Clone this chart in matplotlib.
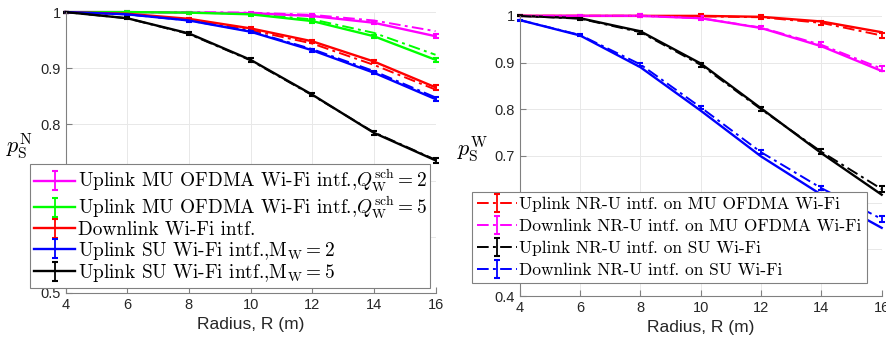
import matplotlib
matplotlib.use("Agg")
import matplotlib.pyplot as plt
import numpy as np

plt.rcParams['mathtext.fontset'] = 'cm'
plt.rcParams['font.family'] = ['Liberation Sans', 'DejaVu Sans']

radius = [4, 6, 8, 10, 12, 14, 16]

# left panel: Wi-Fi interference on NR-U (solid = simulation, dash-dot = analysis)
l_mag_sim = [1.0, 1.0, 0.999, 0.998, 0.993, 0.981, 0.957]
l_mag_ana = [1.0, 1.0, 1.0, 0.999, 0.995, 0.985, 0.966]
l_grn_sim = [1.0, 1.0, 0.999, 0.996, 0.984, 0.957, 0.915]
l_grn_ana = [1.0, 1.0, 0.999, 0.997, 0.987, 0.963, 0.924]
l_red_sim = [1.0, 0.997, 0.988, 0.971, 0.948, 0.912, 0.866]
l_red_ana = [1.0, 0.996, 0.986, 0.968, 0.944, 0.906, 0.862]
l_blu_sim = [1.0, 0.996, 0.985, 0.965, 0.932, 0.892, 0.845]
l_blu_ana = [1.0, 0.996, 0.985, 0.966, 0.934, 0.895, 0.848]
l_blk_sim = [1.0, 0.989, 0.962, 0.915, 0.853, 0.785, 0.736]
l_blk_ana = [1.0, 0.989, 0.961, 0.914, 0.852, 0.786, 0.737]
l_err = [0.001, 0.002, 0.002, 0.003, 0.003, 0.003, 0.004]

# right panel: NR-U interference on Wi-Fi
r_red_sim = [1.0, 1.0, 1.0, 1.0, 0.998, 0.988, 0.965]
r_red_ana = [1.0, 1.0, 1.0, 0.999, 0.997, 0.985, 0.958]
r_mag_sim = [1.0, 1.0, 1.0, 0.995, 0.974, 0.935, 0.882]
r_mag_ana = [1.0, 1.0, 1.0, 0.995, 0.975, 0.938, 0.887]
r_blk_sim = [1.0, 0.995, 0.967, 0.898, 0.802, 0.706, 0.617]
r_blk_ana = [1.0, 0.994, 0.965, 0.895, 0.800, 0.709, 0.629]
r_blu_sim = [0.991, 0.958, 0.890, 0.797, 0.699, 0.617, 0.546]
r_blu_ana = [0.991, 0.959, 0.896, 0.804, 0.708, 0.631, 0.565]
r_err = [0.001, 0.002, 0.003, 0.004, 0.004, 0.005, 0.006]

left_labels = [
    r'Uplink MU OFDMA Wi-Fi intf.,$Q_{\mathrm{W}}^{\mathrm{sch}}=2$',
    r'Uplink MU OFDMA Wi-Fi intf.,$Q_{\mathrm{W}}^{\mathrm{sch}}=5$',
    'Downlink Wi-Fi intf.',
    r'Uplink SU Wi-Fi intf.,$\mathrm{M}_{\mathrm{W}}=2$',
    r'Uplink SU Wi-Fi intf.,$\mathrm{M}_{\mathrm{W}}=5$',
]
right_labels = [
    'Uplink NR-U intf. on MU OFDMA Wi-Fi',
    'Downlink NR-U intf. on MU OFDMA Wi-Fi',
    'Uplink NR-U intf. on SU Wi-Fi',
    'Downlink NR-U intf. on SU Wi-Fi',
]

DASHDOT = (0, (6, 2.2, 1.5, 2.2))
AXCOL = '#808080'
TXTCOL = '#262626'


def style_axes(ax, ymin, yticks, ylabels):
    ax.set_xlim(4, 16)
    ax.set_ylim(ymin, 1)
    ax.set_xticks(radius)
    ax.set_yticks(yticks)
    ax.set_yticklabels(ylabels)
    ax.grid(True, color='#e8e8e8', lw=0.7)
    ax.set_axisbelow(True)
    for s in ['top', 'right']:
        ax.spines[s].set_visible(False)
    for s in ['left', 'bottom']:
        ax.spines[s].set_color(AXCOL)
        ax.spines[s].set_linewidth(0.8)
    ax.tick_params(direction='in', length=4, color=AXCOL, labelcolor=TXTCOL, labelsize=10.5)
    ax.set_xlabel('Radius, R (m)', fontsize=12.5, color=TXTCOL)


fig = plt.figure(figsize=(8.87, 3.45), dpi=100)
ax1 = fig.add_axes([0.074, 0.151, 0.417, 0.814])
ax2 = fig.add_axes([0.586, 0.142, 0.408, 0.812])

# ---- left
left_sets = [
    ('#ff00ff', l_mag_sim, l_mag_ana),
    ('#00ff00', l_grn_sim, l_grn_ana),
    ('#ff0000', l_red_sim, l_red_ana),
    ('#0000ff', l_blu_sim, l_blu_ana),
    ('#000000', l_blk_sim, l_blk_ana),
]
handles = []
for (col, sim, ana), lab in zip(left_sets, left_labels):
    h = ax1.errorbar(radius, sim, yerr=l_err, color=col, lw=1.7, capsize=2.5,
                     elinewidth=1.3, capthick=1.5, label=lab, clip_on=False)
    ax1.plot(radius, ana, color=col, lw=1.4, ls=DASHDOT, clip_on=False)
    handles.append(h)

style_axes(ax1, 0.5, [0.5, 0.6, 0.7, 0.8, 0.9, 1.0], ['0.5', '0.6', '0.7', '0.8', '0.9', '1'])
ax1.set_ylabel(r'$p_{\mathrm{S}}^{\mathrm{N}}$', rotation=0, fontsize=16)
ax1.yaxis.set_label_coords(-0.125, 0.47)
leg1 = ax1.legend(handles=handles, loc='lower left', bbox_to_anchor=(-0.095, 0.018),
                  borderaxespad=0, prop={'family': 'cmr10', 'size': 13.9},
                  fancybox=False, edgecolor=AXCOL, framealpha=1,
                  handlelength=2.1, handletextpad=0.15, labelspacing=0.02,
                  borderpad=0.2)
leg1.get_frame().set_linewidth(0.8)
leg1.set_zorder(10)

# ---- right
right_sets = [
    ('#ff0000', r_red_sim, r_red_ana),
    ('#ff00ff', r_mag_sim, r_mag_ana),
    ('#000000', r_blk_sim, r_blk_ana),
    ('#0000ff', r_blu_sim, r_blu_ana),
]
handles = []
for (col, sim, ana), lab in zip(right_sets, right_labels):
    ax2.plot(radius, sim, color=col, lw=1.7, clip_on=False)
    h = ax2.errorbar(radius, ana, yerr=r_err, color=col, lw=1.4, ls=DASHDOT, capsize=2.5,
                     elinewidth=1.3, capthick=1.5, label=lab, clip_on=False)
    handles.append(h)

style_axes(ax2, 0.4, [0.4, 0.5, 0.6, 0.7, 0.8, 0.9, 1.0],
           ['0.4', '0.5', '0.6', '0.7', '0.8', '0.9', '1'])
ax2.set_ylabel(r'$p_{\mathrm{S}}^{\mathrm{W}}$', rotation=0, fontsize=16)
ax2.yaxis.set_label_coords(-0.13, 0.47)
leg2 = ax2.legend(handles=handles, loc='lower left', bbox_to_anchor=(-0.133, 0.046),
                  borderaxespad=0, prop={'family': 'cmr10', 'size': 12.5},
                  fancybox=False, edgecolor=AXCOL, framealpha=1,
                  handlelength=2.3, handletextpad=0.15, labelspacing=0.38,
                  borderpad=0.3)
leg2.get_frame().set_linewidth(0.8)
leg2.set_zorder(10)

fig.savefig('out.png', dpi=100)
